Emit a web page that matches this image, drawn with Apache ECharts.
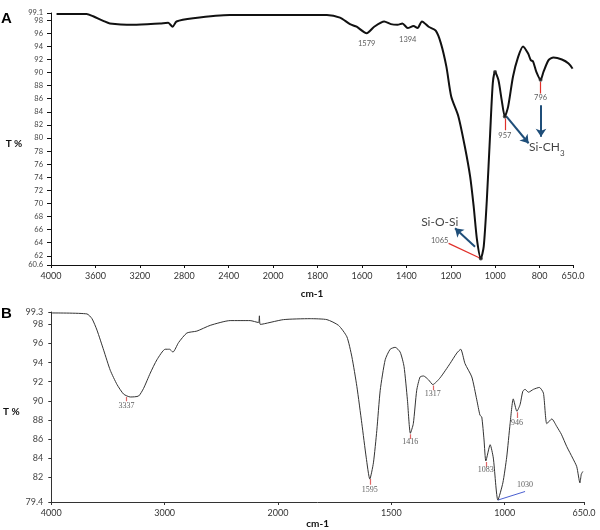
<!DOCTYPE html>
<html><head><meta charset="utf-8">
<script src="https://cdn.jsdelivr.net/npm/echarts@6/dist/echarts.min.js"></script>
<style>html,body{margin:0;padding:0;background:#fff}#c{width:600px;height:530px}</style>
</head><body><div id="c"></div>
<script>
// ---------- Panel A data (wavenumber cm-1, transmittance %) ----------
const wavenumbersA = [3950,3680,3620,3530,3470,3260,3020,2945,2905,2870,2720,2390,1954,1758,1699,1654,1624,1579,1545,1500,1470,1440,1418,1394,1368,1350,1330,1300,1268,1245,1220,1198,1166,1137,1113,1097,1082,1065,1052,1038,1023,1011,1001,986,971,957,942,920,897,875,852,840,830,815,796,783,760,738,700,670,652];
const transmittanceA = [98.95,98.95,98.6,97.9,97.5,97.3,97.5,97.6,97.0,97.8,98.3,98.8,98.8,98.8,98.4,97.4,97.0,96.0,97.0,97.8,97.4,97.3,97.5,96.8,97.1,96.8,97.8,97.0,96.4,94.5,90.9,86.3,83.3,78.7,74.1,69.5,64.4,61.6,63.4,70.5,80.7,88.4,90.1,88.9,85.8,83.3,84.8,89.4,92.4,94.0,92.9,91.9,91.7,90.1,88.9,90.1,91.9,92.3,92.0,91.4,90.6];
const xTicksA = [4000,3600,3200,2800,2400,2000,1800,1600,1400,1200,1000,800,650];
const xTickLabelsA = ['4000','3600','3200','2800','2400','2000','1800','1600','1400','1200','1000','800','650.0'];
const yTicksA = [60.6,62,64,66,68,70,72,74,76,78,80,82,84,86,88,90,92,94,96,98,99.1];
const yRangeA = [60.6, 99.1];
// peak labels: [wavenumber, T, text]
const peakLabelsA = [[1579,94.4,'1579'],[1394,95.0,'1394'],[1250,64.4,'1065'],[957,80.3,'957'],[796,86.2,'796']];
const peakDotsA = [[1065,61.6],[1001,90.1],[957,83.3],[796,88.9]];
const redLeadersA = [[[1210,63.9],[1065,61.6]],[[957,83.0],[957,81.2]],[[796,88.6],[796,86.8]]];
const blueArrowsA = [[[1091,63.4],[1181,66.2]],[[950,83.3],[850,79.2]],[[794,85.0],[794,80.2]]];
const groupLabelsA = [[1250,67.2,'Si-O-Si'],[768,78.6,'Si-CH3']];

// ---------- Panel B data ----------
const wavenumbersB = [4000,3686,3641,3597,3538,3480,3420,3362,3303,3230,3186,3127,3068,2995,2957,2927,2877,2804,2716,2598,2422,2246,2172,2164,2156,1976,1858,1784,1733,1696,1674,1652,1630,1611,1595,1579,1564,1549,1527,1505,1483,1461,1444,1429,1416,1403,1388,1373,1358,1336,1317,1285,1241,1211,1194,1175,1145,1123,1109,1101,1091,1083,1064,1050,1030,1008,991,976,962,946,932,920,910,895,873,847,829,814,792,770,750,726,700,682,668,662,655];
const transmittanceB = [99.2,99.1,98.6,97.4,95.3,93.2,91.7,90.7,90.4,90.5,91.3,92.9,94.3,95.4,95.4,95.1,96.1,97.1,97.3,97.9,98.4,98.4,98.2,98.9,98.0,98.5,98.6,98.5,97.9,96.7,94.6,91.5,87.6,84.1,81.8,83.5,86.9,91.1,94.3,95.4,95.6,95.1,93.6,90.1,86.6,87.6,91.1,92.5,92.6,92.2,91.7,92.4,93.9,95.0,95.4,93.9,92.5,90.1,88.5,88.3,85.9,83.7,85.4,84.0,79.6,81.4,84.1,87.6,90.2,88.9,89.6,91.0,91.2,90.9,91.2,91.4,90.8,87.6,88.1,87.3,86.5,85.2,84.0,83.1,81.4,82.3,82.6];
const xTicksB = [4000,3000,2000,1500,1000,650];
const xTickLabelsB = ['4000','3000','2000','1500','1000','650.0'];
const yTicksB = [79.4,82,84,86,88,90,92,94,96,98,99.3];
const yRangeB = [79.4, 99.3];
const peakLabelsB = [[3337,89.5,'3337'],[1595,80.7,'1595'],[1416,85.7,'1416'],[1317,90.7,'1317'],[1083,82.75,'1083'],[946,87.7,'946'],[910,81.2,'1030']];
const redTicksB = [[[3337,90.4],[3337,89.95]],[[1595,81.8],[1595,81.2]],[[1416,86.5],[1416,86.0]],[[1317,91.6],[1317,91.1]],[[1083,83.6],[1083,83.1]],[[946,88.8],[946,88.2]]];
const blueLeadersB = [[[1030,79.6],[910,80.5]]];

// ---------- scale: wavenumber axis is expanded 2x below 2000 cm-1 ----------
const u = w => (w > 2000 ? 2000 + (w - 2000) / 2 : w);
const pts = (ws, ts) => ws.map((w, i) => [u(w), ts[i]]);
const lbl = (vals, texts) => v => {
  for (let i = 0; i < vals.length; i++) if (Math.abs(vals[i] - v) < 1e-6) return texts[i];
  return '';
};
const numFmt = vals => v => {
  for (let i = 0; i < vals.length; i++) if (Math.abs(vals[i] - v) < 1e-6) return String(vals[i]);
  return '';
};

const chart = echarts.init(document.getElementById('c'), null, {renderer: 'canvas'});
const tickFont = 'Lato, "Liberation Sans", sans-serif';

function xAxis(grid, ticks, texts, gap, fs, color) {
  const cv = ticks.map(u);
  return {
    gridIndex: grid, type: 'value', inverse: true, min: u(650), max: u(4000),
    axisLine: {lineStyle: {color: color, width: 1}},
    axisTick: {show: true, customValues: cv, length: 3, lineStyle: {color: color}},
    axisLabel: {customValues: cv, formatter: lbl(cv, texts), fontSize: fs, color: '#333', margin: 7, fontFamily: tickFont,
                hideOverlap: false, showMinLabel: true, showMaxLabel: true},
    splitLine: {show: false},
    name: 'cm-1', nameLocation: 'middle', nameGap: gap,
    nameTextStyle: {fontWeight: 'bold', fontSize: 10, color: '#111', fontFamily: tickFont}
  };
}
function yAxis(grid, ticks, range, fs, color, tlen, margin, withName, withLine) {
  return {
    gridIndex: grid, type: 'value', min: range[0], max: range[1],
    axisLine: {show: withLine, lineStyle: {color: color, width: 1}},
    axisTick: {show: true, customValues: ticks, length: tlen, lineStyle: {color: color}},
    axisLabel: {customValues: ticks, formatter: numFmt(ticks), fontSize: fs, color: '#444', margin: margin, fontFamily: tickFont,
                hideOverlap: false, showMinLabel: true, showMaxLabel: true},
    splitLine: {show: false},
    name: withName ? 'T %' : '', nameLocation: 'middle', nameRotate: 0, nameGap: 14,
    nameTextStyle: {fontWeight: 'bold', fontSize: 10, color: '#111', verticalAlign: 'top', fontFamily: tickFont}
  };
}
function linesSeries(grid, segs, color, width, arrow) {
  return {
    type: 'lines', coordinateSystem: 'cartesian2d', xAxisIndex: grid, yAxisIndex: grid, silent: true,
    symbol: arrow ? ['none', 'arrow'] : ['none', 'none'], symbolSize: 8,
    lineStyle: {color: color, width: width, opacity: 1},
    data: segs.map(s => ({coords: [[u(s[0][0]), s[0][1]], [u(s[1][0]), s[1][1]]]}))
  };
}
function textSeries(grid, items, style) {
  return {
    type: 'scatter', xAxisIndex: grid, yAxisIndex: grid, silent: true, symbolSize: 0,
    data: items.map(d => [u(d[0]), d[1], d[2]]),
    label: Object.assign({show: true, position: 'inside', formatter: p => p.data[2]}, style),
    z: 5
  };
}

// The top tick of panel A (99.1) sits very close to 98, so it is drawn by an overlaid twin axis.
const yTicksAMain = yTicksA.slice(0, -1);
const yTicksATop = yTicksA.slice(-1);

chart.setOption({
  animation: false,
  backgroundColor: '#fff',
  grid: [
    {left: 51, top: 13, right: 27, height: 252},
    {left: 51, top: 312, right: 16, height: 190}
  ],
  xAxis: [xAxis(0, xTicksA, xTickLabelsA, 24, 9, '#111'), xAxis(1, xTicksB, xTickLabelsB, 15, 9, '#333')],
  yAxis: [
    yAxis(0, yTicksAMain, yRangeA, 7.5, '#111', 4, 8, true, true),
    yAxis(1, yTicksB, yRangeB, 9, '#333', 3, 8, true, true),
    Object.assign(yAxis(0, yTicksATop, yRangeA, 7.5, '#111', 4, 8, false, false), {position: 'left', offset: 0})
  ],
  graphic: [
    {type: 'text', left: 1, top: 11, style: {text: 'A', fontSize: 15, fontWeight: 'bold', fill: '#000', fontFamily: '"Liberation Sans", Arial, sans-serif'}},
    {type: 'text', left: 1, top: 306, style: {text: 'B', fontSize: 15, fontWeight: 'bold', fill: '#000', fontFamily: '"Liberation Sans", Arial, sans-serif'}}
  ],
  series: [
    {type: 'line', xAxisIndex: 0, yAxisIndex: 0, data: pts(wavenumbersA, transmittanceA), showSymbol: false, smooth: 0.25,
     lineStyle: {color: '#111', width: 2}, silent: true, z: 3},
    {type: 'scatter', xAxisIndex: 0, yAxisIndex: 0, data: peakDotsA.map(d => [u(d[0]), d[1]]), symbolSize: 4,
     itemStyle: {color: '#222'}, silent: true, z: 4},
    linesSeries(0, redLeadersA, '#e0302a', 1.2, false),
    linesSeries(0, blueArrowsA, '#1f4e79', 2, true),
    textSeries(0, peakLabelsA, {fontSize: 7.5, color: '#333', fontFamily: tickFont}),
    textSeries(0, groupLabelsA, {
      fontSize: 12, color: '#111', fontFamily: tickFont,
      formatter: p => p.data[2] === 'Si-CH3' ? '{a|Si-CH}{s|3}' : '{a|Si-O-Si}',
      rich: {a: {fontSize: 12, color: '#111', fontFamily: tickFont, lineHeight: 14}, s: {fontSize: 8, color: '#111', fontFamily: tickFont, verticalAlign: 'bottom', lineHeight: 8, padding: [0, 0, -3, 0]}}
    }),

    {type: 'line', xAxisIndex: 1, yAxisIndex: 1, data: pts(wavenumbersB, transmittanceB), showSymbol: false, smooth: 0.2,
     lineStyle: {color: '#333', width: 1}, silent: true, z: 3},
    linesSeries(1, redTicksB, '#e06666', 1.2, false),
    linesSeries(1, blueLeadersB, '#4a5fd0', 1, false),
    textSeries(1, peakLabelsB, {fontSize: 8, color: '#333', fontFamily: '"Liberation Serif", "DejaVu Serif", serif'})
  ]
});
</script>
</body></html>
